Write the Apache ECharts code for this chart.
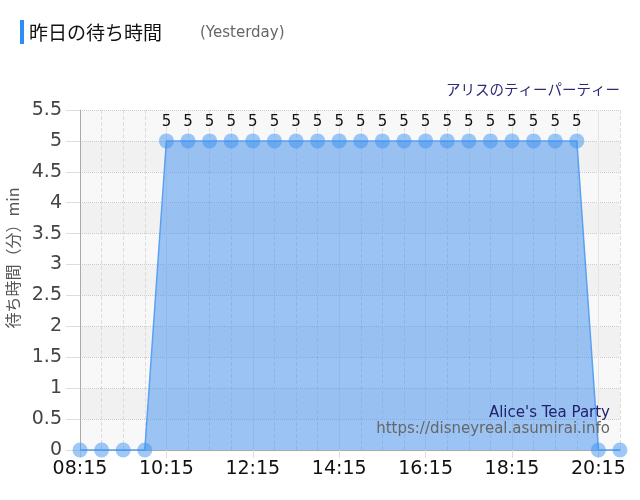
<!DOCTYPE html>
<html>
<head>
<meta charset="utf-8">
<script src="https://cdn.jsdelivr.net/npm/echarts@6/dist/echarts.min.js"></script>
<style>
  html, body { margin: 0; padding: 0; background: #fff; }
  #chart { width: 640px; height: 500px; }
</style>
</head>
<body>
<div id="chart"></div>
<script>
// 30分ごとの時刻
const times = ['08:15', '08:45', '09:15', '09:45', '10:15', '10:45', '11:15', '11:45',
  '12:15', '12:45', '13:15', '13:45', '14:15', '14:45', '15:15', '15:45',
  '16:15', '16:45', '17:15', '17:45', '18:15', '18:45', '19:15', '19:45',
  '20:15', '20:45'];
// 待ち時間（分）
const waitMin = [0, 0, 0, 0, 5, 5, 5, 5, 5, 5, 5, 5, 5, 5, 5, 5, 5, 5, 5, 5, 5, 5, 5, 5, 0, 0];

const attraction = 'アリスのティーパーティー';
const attractionEn = "Alice's Tea Party";
const siteUrl = 'https://disneyreal.asumirai.info';

const chart = echarts.init(document.getElementById('chart'));
const font = '"DejaVu Sans", Verdana, sans-serif';
const jpFont = '"Noto Sans CJK JP", sans-serif';

const option = {
  animation: false,
  textStyle: { fontFamily: font },
  title: [
    {
      text: '昨日の待ち時間',
      left: 24, top: 18,
      textStyle: { fontSize: 19, fontWeight: 'normal', color: '#111', fontFamily: jpFont }
    },
    {
      text: '(Yesterday)',
      left: 195, top: 21,
      textStyle: { fontSize: 15, fontWeight: 'normal', color: '#666', fontFamily: font }
    },
    {
      text: attraction,
      right: 15, top: 77,
      textStyle: { fontSize: 14.5, fontWeight: 'normal', color: '#2b2b78', fontFamily: jpFont }
    }
  ],
  graphic: [
    { type: 'rect', shape: { x: 20, y: 20, width: 4, height: 24 }, style: { fill: '#2d8df2' } },
    {
      type: 'text', x: 610, y: 406, z: 100,
      style: { text: attractionEn, fill: '#22226e', font: '15px ' + font, textAlign: 'right' }
    },
    {
      type: 'text', x: 610, y: 422, z: 100,
      style: { text: siteUrl, fill: '#666', font: '15px ' + font, textAlign: 'right' }
    }
  ],
  grid: { left: 80, right: 20, top: 110, bottom: 50, outerBoundsMode: 'none' },
  xAxis: [
    {
      type: 'category',
      data: times,
      boundaryGap: false,
      axisLine: { lineStyle: { color: '#aaa' } },
      axisTick: { interval: 3, length: 8, lineStyle: { color: '#ddd' } },
      axisLabel: { interval: 3, fontSize: 19, color: '#111', margin: 10, fontFamily: font },
      splitLine: { show: true, interval: 0, lineStyle: { color: '#ddd', type: 'dashed' } }
    },
    {
      type: 'category',
      data: times,
      boundaryGap: false,
      position: 'bottom',
      axisLine: { show: false },
      axisTick: { show: false },
      axisLabel: { show: false },
      splitLine: { show: true, interval: 3, lineStyle: { color: '#e4e4e4', type: 'solid' } }
    }
  ],
  yAxis: {
    type: 'value',
    min: 0, max: 5.5, interval: 0.5,
    name: '待ち時間（分）min',
    nameLocation: 'middle',
    nameGap: 41,
    nameTextStyle: { fontSize: 16, color: '#555', fontFamily: jpFont, padding: [0, 0, 0, 44] },
    axisLine: { show: true, lineStyle: { color: '#aaa' } },
    axisTick: { show: true, length: 14, lineStyle: { color: '#ddd' } },
    axisLabel: { fontSize: 19, color: '#444', margin: 18, fontFamily: font },
    splitLine: { lineStyle: { color: '#ccc', type: 'dotted' } },
    splitArea: { show: true, areaStyle: { color: ['#f8f8f8', '#f1f1f1'] } }
  },
  series: [
    {
      type: 'line',
      data: waitMin,
      symbol: 'circle',
      symbolSize: 15,
      showAllSymbol: true,
      lineStyle: { color: '#5ba1f2', width: 1.5 },
      itemStyle: { color: 'rgba(60,145,240,0.5)' },
      areaStyle: { color: 'rgba(55,140,240,0.48)', opacity: 1 },
      label: {
        show: true,
        position: 'top',
        distance: 4,
        fontSize: 15,
        color: '#111',
        fontFamily: font,
        formatter: p => (p.value ? String(p.value) : '')
      },
      labelLayout: { hideOverlap: false }
    }
  ]
};

chart.setOption(option);
</script>
</body>
</html>
